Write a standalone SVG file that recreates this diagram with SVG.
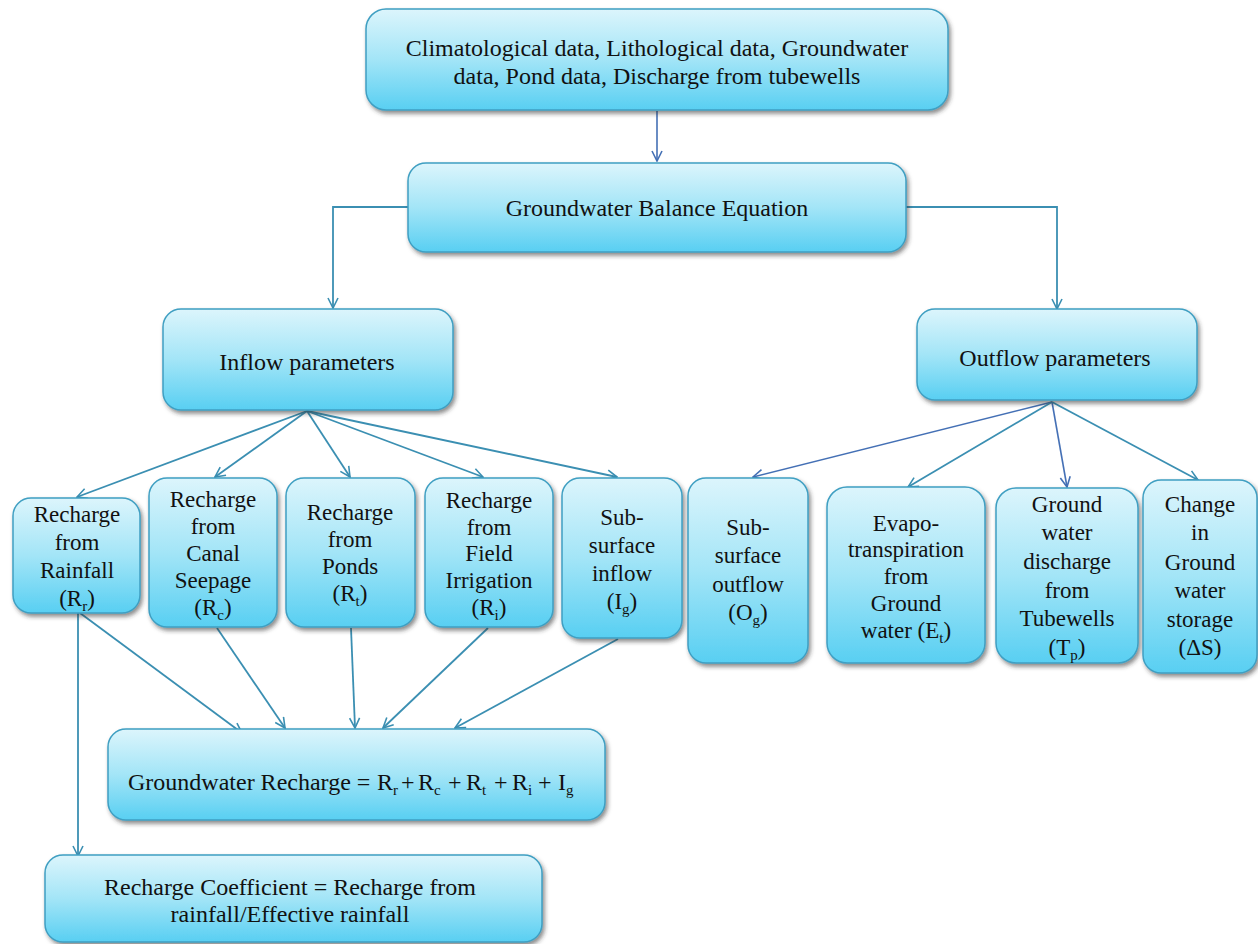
<svg xmlns="http://www.w3.org/2000/svg" width="1258" height="944" viewBox="0 0 1258 944">
<defs>
<linearGradient id="boxfill" x1="0" y1="0" x2="0" y2="1">
<stop offset="0" stop-color="#dcf5fc"/>
<stop offset="0.5" stop-color="#a3e5f7"/>
<stop offset="1" stop-color="#58cff2"/>
</linearGradient>
<filter id="shadow" x="-10%" y="-10%" width="120%" height="125%">
<feDropShadow dx="2" dy="3" stdDeviation="2" flood-color="#333" flood-opacity="0.55"/>
</filter>
<marker id="arr" viewBox="0 0 12 12" refX="11" refY="6" markerWidth="12" markerHeight="12" markerUnits="userSpaceOnUse" orient="auto">
<path d="M1,1 L11,6 L1,11" fill="none" stroke="#3b8fb2" stroke-width="1.6"/>
</marker>
<marker id="arrb" viewBox="0 0 12 12" refX="11" refY="6" markerWidth="12" markerHeight="12" markerUnits="userSpaceOnUse" orient="auto">
<path d="M1,1 L11,6 L1,11" fill="none" stroke="#4470b5" stroke-width="1.6"/>
</marker>
</defs>
<style>
.box{fill:url(#boxfill);stroke:#3f9fc2;stroke-width:1.5;filter:url(#shadow)}
.c{fill:none;stroke:#3b8fb2;stroke-width:1.8;marker-end:url(#arr)}
.cb{fill:none;stroke:#4470b5;stroke-width:1.6;marker-end:url(#arrb)}
</style>
<rect width="1258" height="944" fill="#ffffff"/>

<g id="connectors">
<path class="cb" d="M657,111 V161"/>
<path class="c" d="M408,207 H333 V308"/>
<path class="c" d="M906,207 H1057 V309"/>
<path class="c" d="M307,411 L77,497"/>
<path class="c" d="M307,411 L215,477"/>
<path class="c" d="M307,411 L350,477"/>
<path class="c" d="M307,411 L483,477"/>
<path class="c" d="M307,411 L617,477"/>
<path class="cb" d="M1052,402 L753,477"/>
<path class="c" d="M1052,402 L908,487"/>
<path class="cb" d="M1052,402 L1067,487"/>
<path class="c" d="M1052,402 L1198,480"/>
<path class="c" d="M80,613 L242,733"/>
<path class="c" d="M217,628 L285,728"/>
<path class="c" d="M351,628 L355,728"/>
<path class="c" d="M488,628 L383,728"/>
<path class="c" d="M618,639 L455,728"/>
<path class="c" d="M78,613 V856"/>
</g>

<g id="n-data" font-size="24" text-anchor="middle" fill="#111">
<rect class="box" x="366" y="9" width="582" height="101" rx="20"/>
<text font-family="Liberation Serif" x="657" y="56">Climatological data, Lithological data, Groundwater</text>
<text font-family="Liberation Serif" x="657" y="84">data, Pond data, Discharge from tubewells</text>
</g>

<g id="n-balance" font-size="24" text-anchor="middle" fill="#111">
<rect class="box" x="408" y="163" width="498" height="89" rx="18"/>
<text font-family="Liberation Serif" x="657" y="216">Groundwater Balance Equation</text>
</g>

<g id="n-inflow" font-size="24" text-anchor="middle" fill="#111">
<rect class="box" x="163" y="309" width="290" height="101" rx="18"/>
<text font-family="Liberation Serif" x="307" y="370">Inflow parameters</text>
</g>

<g id="n-outflow" font-size="24" text-anchor="middle" fill="#111">
<rect class="box" x="917" y="309" width="280" height="91" rx="18"/>
<text font-family="Liberation Serif" x="1055" y="366">Outflow parameters</text>
</g>

<g id="n-rainfall" font-size="23" text-anchor="middle" fill="#111">
<rect class="box" x="13" y="498" width="127" height="115" rx="18"/>
<text font-family="Liberation Serif" x="77" y="522">Recharge</text>
<text font-family="Liberation Serif" x="77" y="550">from</text>
<text font-family="Liberation Serif" x="77" y="578">Rainfall</text>
<text font-family="Liberation Serif" x="77" y="606">(R<tspan font-size="15" dy="5">r</tspan><tspan dy="-5">)</tspan></text>
</g>

<g id="n-canal" font-size="23" text-anchor="middle" fill="#111">
<rect class="box" x="149" y="478" width="128" height="149" rx="18"/>
<text font-family="Liberation Serif" x="213" y="507">Recharge</text>
<text font-family="Liberation Serif" x="213" y="534">from</text>
<text font-family="Liberation Serif" x="213" y="561">Canal</text>
<text font-family="Liberation Serif" x="213" y="588">Seepage</text>
<text font-family="Liberation Serif" x="213" y="615">(R<tspan font-size="15" dy="5">c</tspan><tspan dy="-5">)</tspan></text>
</g>

<g id="n-ponds" font-size="23" text-anchor="middle" fill="#111">
<rect class="box" x="286" y="478" width="129" height="149" rx="18"/>
<text font-family="Liberation Serif" x="350" y="520">Recharge</text>
<text font-family="Liberation Serif" x="350" y="547">from</text>
<text font-family="Liberation Serif" x="350" y="574">Ponds</text>
<text font-family="Liberation Serif" x="350" y="601">(R<tspan font-size="15" dy="5">t</tspan><tspan dy="-5">)</tspan></text>
</g>

<g id="n-irrigation" font-size="23" text-anchor="middle" fill="#111">
<rect class="box" x="425" y="478" width="128" height="149" rx="18"/>
<text font-family="Liberation Serif" x="489" y="508">Recharge</text>
<text font-family="Liberation Serif" x="489" y="535">from</text>
<text font-family="Liberation Serif" x="489" y="561">Field</text>
<text font-family="Liberation Serif" x="489" y="588">Irrigation</text>
<text font-family="Liberation Serif" x="489" y="615">(R<tspan font-size="15" dy="5">i</tspan><tspan dy="-5">)</tspan></text>
</g>

<g id="n-subin" font-size="23" text-anchor="middle" fill="#111">
<rect class="box" x="562" y="478" width="120" height="160" rx="18"/>
<text font-family="Liberation Serif" x="622" y="525">Sub-</text>
<text font-family="Liberation Serif" x="622" y="553">surface</text>
<text font-family="Liberation Serif" x="622" y="581">inflow</text>
<text font-family="Liberation Serif" x="622" y="609">(I<tspan font-size="15" dy="5">g</tspan><tspan dy="-5">)</tspan></text>
</g>

<g id="n-subout" font-size="23" text-anchor="middle" fill="#111">
<rect class="box" x="688" y="478" width="120" height="185" rx="18"/>
<text font-family="Liberation Serif" x="748" y="535">Sub-</text>
<text font-family="Liberation Serif" x="748" y="563">surface</text>
<text font-family="Liberation Serif" x="748" y="592">outflow</text>
<text font-family="Liberation Serif" x="748" y="620">(O<tspan font-size="15" dy="5">g</tspan><tspan dy="-5">)</tspan></text>
</g>

<g id="n-evapo" font-size="23" text-anchor="middle" fill="#111">
<rect class="box" x="827" y="487" width="158" height="176" rx="20"/>
<text font-family="Liberation Serif" x="906" y="531">Evapo-</text>
<text font-family="Liberation Serif" x="906" y="557">transpiration</text>
<text font-family="Liberation Serif" x="906" y="584">from</text>
<text font-family="Liberation Serif" x="906" y="611">Ground</text>
<text font-family="Liberation Serif" x="906" y="638">water (E<tspan font-size="15" dy="5">t</tspan><tspan dy="-5">)</tspan></text>
</g>

<g id="n-tubewells" font-size="23" text-anchor="middle" fill="#111">
<rect class="box" x="996" y="488" width="142" height="175" rx="20"/>
<text font-family="Liberation Serif" x="1067" y="512">Ground</text>
<text font-family="Liberation Serif" x="1067" y="540">water</text>
<text font-family="Liberation Serif" x="1067" y="569">discharge</text>
<text font-family="Liberation Serif" x="1067" y="598">from</text>
<text font-family="Liberation Serif" x="1067" y="626">Tubewells</text>
<text font-family="Liberation Serif" x="1067" y="655">(T<tspan font-size="15" dy="5">p</tspan><tspan dy="-5">)</tspan></text>
</g>

<g id="n-storage" font-size="23" text-anchor="middle" fill="#111">
<rect class="box" x="1143" y="480" width="114" height="193" rx="18"/>
<text font-family="Liberation Serif" x="1200" y="512">Change</text>
<text font-family="Liberation Serif" x="1200" y="540">in</text>
<text font-family="Liberation Serif" x="1200" y="570">Ground</text>
<text font-family="Liberation Serif" x="1200" y="598">water</text>
<text font-family="Liberation Serif" x="1200" y="627">storage</text>
<text font-family="Liberation Serif" x="1200" y="655">(ΔS)</text>
</g>

<g id="n-recharge" font-size="24" fill="#111">
<rect class="box" x="108" y="729" width="497" height="91" rx="18"/>
<text font-family="Liberation Serif" y="790"><tspan x="128">Groundwater Recharge =</tspan><tspan x="377">R</tspan><tspan font-size="15" dy="5">r</tspan><tspan x="401" dy="-5">+</tspan><tspan x="418">R</tspan><tspan font-size="15" dy="5">c</tspan><tspan x="448" dy="-5">+</tspan><tspan x="466">R</tspan><tspan font-size="15" dy="5">t</tspan><tspan x="494" dy="-5">+</tspan><tspan x="512">R</tspan><tspan font-size="15" dy="5">i</tspan><tspan x="538" dy="-5">+</tspan><tspan x="558">I</tspan><tspan font-size="15" dy="5">g</tspan></text>
</g>

<g id="n-coefficient" font-size="24" text-anchor="middle" fill="#111">
<rect class="box" x="45" y="855" width="497" height="87" rx="18"/>
<text font-family="Liberation Serif" x="290" y="895">Recharge Coefficient = Recharge from</text>
<text font-family="Liberation Serif" x="290" y="922">rainfall/Effective rainfall</text>
</g>
</svg>
